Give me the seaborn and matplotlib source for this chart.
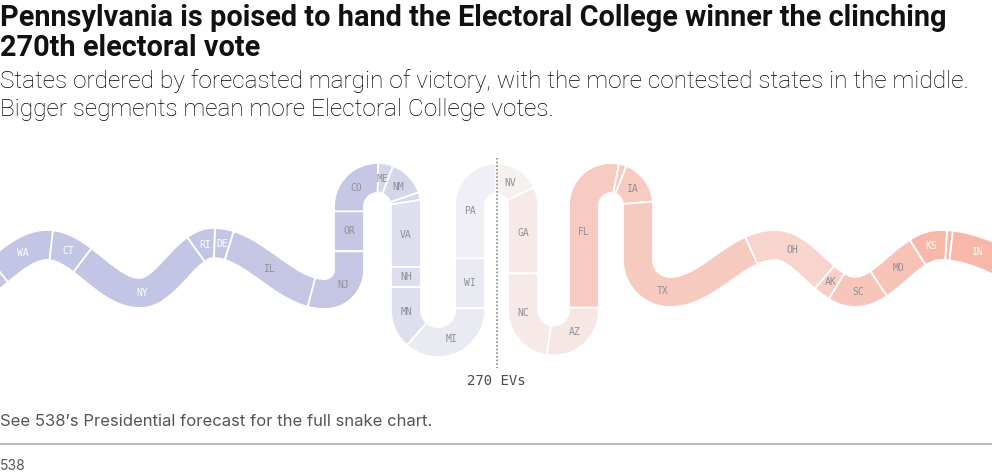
import numpy as np
import matplotlib
matplotlib.use("Agg")
import matplotlib.pyplot as plt
from matplotlib.patches import Polygon
import seaborn as sns

# ---------------- data ----------------
states = ["MA", "WA", "CT", "NY", "RI", "DE", "IL", "NJ", "OR", "CO", "ME", "NM", "NE-2",
          "VA", "NH", "MN", "MI", "WI", "PA",
          "NV", "GA", "NC", "AZ", "FL", "ME-2", "IA", "TX", "OH", "AK", "SC", "MO", "KS",
          "NE-1", "IN", "UT"]
electoral_votes = [11, 12, 7, 28, 4, 3, 19, 14, 8, 10, 2, 5, 1,
                   13, 4, 10, 15, 10, 19,
                   6, 16, 16, 11, 30, 1, 6, 40, 17, 3, 9, 10, 6,
                   1, 11, 6]
leader = ["D"] * 19 + ["R"] * 16
win_prob = [0.99, 0.99, 0.99, 0.99, 0.99, 0.99, 0.96, 0.96, 0.95, 0.95, 0.80, 0.80, 0.78,
            0.72, 0.72, 0.72, 0.59, 0.59, 0.54,
            0.51, 0.57, 0.57, 0.58, 0.81, 0.81, 0.81, 0.82, 0.74, 0.78, 0.86, 0.88, 0.97,
            0.97, 0.98, 0.99]
ev_before_window = 75      # safer Democratic EVs left of the shown window
tipping_ev = 270

title_lines = ["Pennsylvania is poised to hand the Electoral College winner the clinching",
               "270th electoral vote"]
subtitle_lines = ["States ordered by forecasted margin of victory, with the more contested states in the middle.",
                  "Bigger segments mean more Electoral College votes."]
note = "See 538\u2019s Presidential forecast for the full snake chart."
source = "538"
marker_label = "270 EVs"

# ---------------- style ----------------
sns.set_theme(style="white")
plt.rcParams["font.family"] = ["Roboto", "DejaVu Sans"]

W, H = 992, 474
fig = plt.figure(figsize=(W / 100, H / 100), dpi=100)
ax = fig.add_axes([0, 0, 1, 1])
ax.set_xlim(0, W)
ax.set_ylim(H, 0)
ax.axis("off")

cmap = {
    "D": sns.blend_palette(["#f3f3f6", "#c3c5e4"], as_cmap=True),
    "R": sns.blend_palette(["#f6f1f0", "#f7b8aa"], as_cmap=True),
}

# ---------------- snake centre line (pixel space) ----------------
def cos_wave(pts, n=300):
    xs, ys = [], []
    for (x0, y0), (x1, y1) in zip(pts[:-1], pts[1:]):
        t = np.linspace(0, 1, n)
        xs.append(x0 + (x1 - x0) * t)
        ys.append(y0 + (y1 - y0) * (1 - np.cos(np.pi * t)) / 2)
    return np.concatenate(xs), np.concatenate(ys)

def arc(cx, cy, r, a0, a1, n=200):
    a = np.radians(np.linspace(a0, a1, n))
    return cx + r * np.cos(a), cy - r * np.sin(a)

def line(x0, y0, x1, y1, n=100):
    t = np.linspace(0, 1, n)
    return x0 + (x1 - x0) * t, y0 + (y1 - y0) * t

pieces = [
    cos_wave([(-140, 245), (-46, 293), (47, 245), (140, 293), (213, 243), (325, 294)]),
    arc(325, 270, 24, -90, 0),
    line(349, 270, 349, 206.5),
    arc(377.5, 206.5, 28.5, 180, 0),
    line(406, 206.5, 406, 310),
    arc(438, 310, 32, 180, 360),
    line(470, 310, 470, 205),
]
top_piece_index = len(pieces)
pieces += [
    arc(496.5, 205, 26.5, 180, 0),
    line(523, 205, 523, 310),
    arc(553.5, 310, 30.5, 180, 360),
    line(584, 310, 584, 205),
    arc(611, 205, 27, 180, 0),
    line(638, 205, 638, 260),
    arc(670, 260, 32, 180, 270),
    cos_wave([(670, 292), (775, 245), (855, 292), (940, 245), (1090, 292), (1180, 245)]),
]

px = np.concatenate([p[0] for p in pieces])
py = np.concatenate([p[1] for p in pieces])
keep = np.r_[True, np.hypot(np.diff(px), np.diff(py)) > 1e-9]
px, py = px[keep], py[keep]
s = np.r_[0, np.cumsum(np.hypot(np.diff(px), np.diff(py)))]
tx, ty = np.gradient(px), np.gradient(py)
nrm = np.hypot(tx, ty)
nx, ny = -ty / nrm, tx / nrm

# arc length at the top of the PA / NV bend = 270 EV
before = pieces[:top_piece_index]
bx = np.concatenate([p[0] for p in before]); by = np.concatenate([p[1] for p in before])
s_before = np.sum(np.hypot(np.diff(bx), np.diff(by)))
s270 = s_before + np.pi * 26.5 / 2

px_per_ev = 5.0
band = 30.0

def at(sv):
    return (np.interp(sv, s, px), np.interp(sv, s, py),
            np.interp(sv, s, nx), np.interp(sv, s, ny))

cum = ev_before_window + np.r_[0, np.cumsum(electoral_votes)]
for i, st in enumerate(states):
    s0 = s270 + (cum[i] - tipping_ev) * px_per_ev
    s1 = s270 + (cum[i + 1] - tipping_ev) * px_per_ev
    ss = np.r_[s0, s[(s > s0) & (s < s1)], s1]
    x, y, ux, uy = at(ss)
    l = np.hypot(ux, uy); ux, uy = ux / l, uy / l
    h = band / 2
    verts = np.vstack([np.c_[x + ux * h, y + uy * h], np.c_[x - ux * h, y - uy * h][::-1]])
    p = win_prob[i]
    t = np.clip((p - 0.5) / 0.47, 0, 1)
    col = cmap[leader[i]](t)
    ax.add_patch(Polygon(verts, closed=True, facecolor=col, edgecolor="white",
                         linewidth=1.3, joinstyle="miter"))
    if electoral_votes[i] >= 2:
        xm, ym, _, _ = at((s0 + s1) / 2)
        if 12 <= xm <= W - 12:
            ax.text(xm, ym, st, ha="center", va="center", fontsize=7,
                    family="DejaVu Sans Mono",
                    color="white" if p >= 0.97 else "#8f8f99")

# 270 marker
x270 = float(np.interp(s270, s, px))
ax.plot([x270, x270], [158, 368], color="#8a8a8a", lw=1.2, linestyle=(0, (1, 1.2)))
ax.text(x270, 385, marker_label, ha="center", va="baseline", fontsize=10,
        family="DejaVu Sans Mono", color="#4a4a4a")

# titles
ax.text(0, 26, title_lines[0], fontsize=20.8, fontweight="bold", color="#111111", va="baseline")
ax.text(0, 56, title_lines[1], fontsize=20.8, fontweight="bold", color="#111111", va="baseline")
ax.text(0, 88, subtitle_lines[0], fontsize=17.6, fontweight="light", color="#000000", va="baseline")
ax.text(0, 116, subtitle_lines[1], fontsize=17.6, fontweight="light", color="#000000", va="baseline")

ax.text(0, 426, note, fontsize=12, color="#555555", va="baseline", family=["Inter", "DejaVu Sans"])
ax.plot([0, W], [444, 444], color="#bbbbbb", lw=1.5, solid_capstyle="butt")
ax.text(0, 470, source, fontsize=10, color="#555555", va="baseline", family=["Inter", "DejaVu Sans"])

fig.savefig("out.png", dpi=100, facecolor="white")
